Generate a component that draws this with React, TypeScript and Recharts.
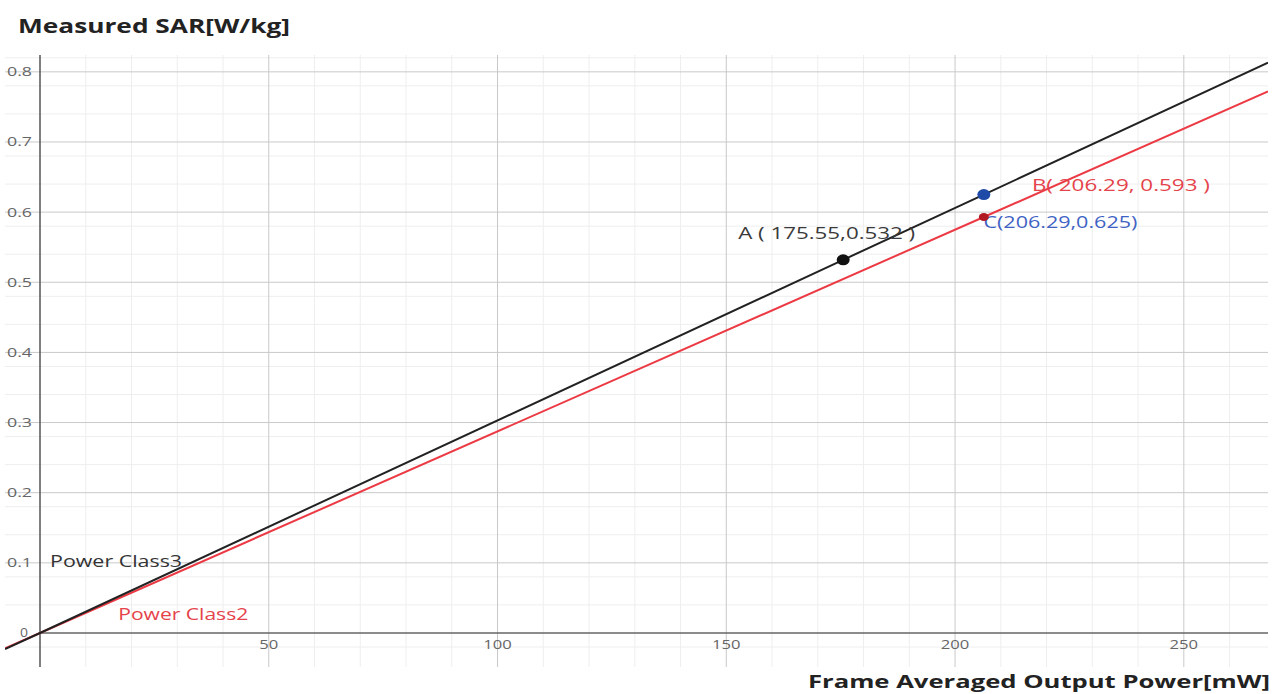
import {
  ComposedChart,
  Line,
  Scatter,
  XAxis,
  YAxis,
  CartesianGrid,
  ReferenceLine,
} from 'recharts';

// 读图得到的数据
const class3Line = [
  { x: -7.65, y: -0.023 },
  { x: 0, y: 0 },
  { x: 175.55, y: 0.532 },
  { x: 206.29, y: 0.625 },
  { x: 268.4, y: 0.813 },
];
const class2Line = [
  { x: -7.65, y: -0.022 },
  { x: 0, y: 0 },
  { x: 206.29, y: 0.593 },
  { x: 268.4, y: 0.772 },
];
const pointA = [{ x: 175.55, y: 0.532 }];
const pointBlue = [{ x: 206.29, y: 0.625 }];
const pointRed = [{ x: 206.29, y: 0.593 }];

const xTicks = [50, 100, 150, 200, 250];
const yTicks = [0, 0.1, 0.2, 0.3, 0.4, 0.5, 0.6, 0.7, 0.8];
const xMajor = [50, 100, 150, 200, 250];
const yMajor = [0.1, 0.2, 0.3, 0.4, 0.5, 0.6, 0.7, 0.8];
const xMinor = [
  10, 20, 30, 40, 60, 70, 80, 90, 110, 120, 130, 140, 160, 170, 180, 190,
  210, 220, 230, 240, 260,
];
const yMinor = [
  -0.04, -0.02, 0.02, 0.04, 0.06, 0.08, 0.12, 0.14, 0.16, 0.18, 0.22, 0.24,
  0.26, 0.28, 0.32, 0.34, 0.36, 0.38, 0.42, 0.44, 0.46, 0.48, 0.52, 0.54,
  0.56, 0.58, 0.62, 0.64, 0.66, 0.68, 0.72, 0.74, 0.76, 0.78, 0.82,
];

const annotations = [
  { x: 152.6, y: 0.571, text: 'A ( 175.55,0.532 )', color: '#3a3a3a', len: 177 },
  { x: 216.8, y: 0.64, text: 'B( 206.29, 0.593 )', color: '#e5434b', len: 178 },
  { x: 206.2, y: 0.586, text: 'C(206.29,0.625)', color: '#3f63c4', len: 154 },
  { x: 2.2, y: 0.104, text: 'Power Class3', color: '#333333', len: 132 },
  { x: 17.1, y: 0.0275, text: 'Power Class2', color: '#e5434b', len: 130 },
];

const X_DOMAIN = [-7.65, 268.4];
const Y_DOMAIN = [-0.0485, 0.824];
const FONT = '"Open Sans", "Noto Sans", sans-serif';

const xTickData = xTicks.map((t) => ({ x: t, y: 0, label: String(t) }));
const yTickData = yTicks.map((t) => ({ x: 0, y: t, label: String(t) }));

function XTickShape(p: any) {
  const s = p.payload.label;
  return (
    <text x={p.cx} y={p.cy + 12} textAnchor="middle" dominantBaseline="central" fontSize={12}
      fill="#666" fontFamily={FONT} textLength={s.length * 9.5} lengthAdjust="spacingAndGlyphs">
      {s}
    </text>
  );
}

function YTickShape(p: any) {
  const s = p.payload.label;
  const zero = p.payload.y === 0;
  return (
    <text x={p.cx - (zero ? 12 : 8)} y={p.cy} textAnchor="end" dominantBaseline="central" fontSize={12}
      fill="#666" fontFamily={FONT} textLength={zero ? 8 : 25} lengthAdjust="spacingAndGlyphs">
      {s}
    </text>
  );
}

function NoteShape(p: any) {
  const a = p.payload;
  return (
    <text x={p.cx} y={p.cy} dominantBaseline="central" fontSize={17} fill={a.color}
      fontFamily={FONT} textLength={a.len} lengthAdjust="spacingAndGlyphs">
      {a.text}
    </text>
  );
}

export default function App() {
  return (
    <div style={{ position: 'absolute', left: 0, top: 0, width: 1279, height: 694, background: '#fff', fontFamily: FONT }}>
      <ComposedChart
        width={1279}
        height={694}
        margin={{ top: 55, right: 11, bottom: 27, left: 5 }}
        style={{ position: 'absolute', left: 0, top: 0 }}
      >
        <XAxis type="number" dataKey="x" hide domain={X_DOMAIN} allowDataOverflow />
        <YAxis type="number" dataKey="y" hide domain={Y_DOMAIN} allowDataOverflow />
        <CartesianGrid stroke="#eeeeee" horizontalValues={yMinor} verticalValues={xMinor} />
        <CartesianGrid stroke="#c9c9c9" horizontalValues={yMajor} verticalValues={xMajor} />

        <ReferenceLine x={0} stroke="#555" strokeWidth={1.5} />
        <ReferenceLine segment={[{ x: 0, y: 0 }, { x: 268.4, y: 0 }]} stroke="#666" strokeWidth={1.5} />

        <Scatter data={xTickData} dataKey="y" shape={XTickShape} isAnimationActive={false} />
        <Scatter data={yTickData} dataKey="y" shape={YTickShape} isAnimationActive={false} />
        <Scatter data={annotations} dataKey="y" shape={NoteShape} isAnimationActive={false} />

        <Line data={class2Line} dataKey="y" type="linear" stroke="#ec3a44" strokeWidth={2} dot={false} isAnimationActive={false} />
        <Line data={class3Line} dataKey="y" type="linear" stroke="#222" strokeWidth={2} dot={false} isAnimationActive={false} />
        <Scatter data={pointA} dataKey="y" fill="#111" shape={(p: any) => <ellipse cx={p.cx} cy={p.cy} rx={6.5} ry={5.5} fill="#111" />} isAnimationActive={false} />
        <Scatter data={pointBlue} dataKey="y" fill="#1f4aa8" shape={(p: any) => <ellipse cx={p.cx} cy={p.cy} rx={6.5} ry={5.5} fill="#1f4aa8" />} isAnimationActive={false} />
        <Scatter data={pointRed} dataKey="y" fill="#b01822" shape={(p: any) => <ellipse cx={p.cx} cy={p.cy} rx={5} ry={4} fill="#b01822" />} isAnimationActive={false} />
      </ComposedChart>
      <svg width={1279} height={694} style={{ position: 'absolute', left: 0, top: 0, pointerEvents: 'none' }}>
        <text x={18} y={25} dominantBaseline="central" fontSize={20} fontWeight={700} fill="#222"
          fontFamily={FONT} textLength={272} lengthAdjust="spacingAndGlyphs">
          Measured SAR[W/kg]
        </text>
        <text x={808} y={688} fontSize={18} fontWeight={700} fill="#222"
          fontFamily={FONT} textLength={462} lengthAdjust="spacingAndGlyphs">
          Frame Averaged Output Power[mW]
        </text>
      </svg>
    </div>
  );
}
